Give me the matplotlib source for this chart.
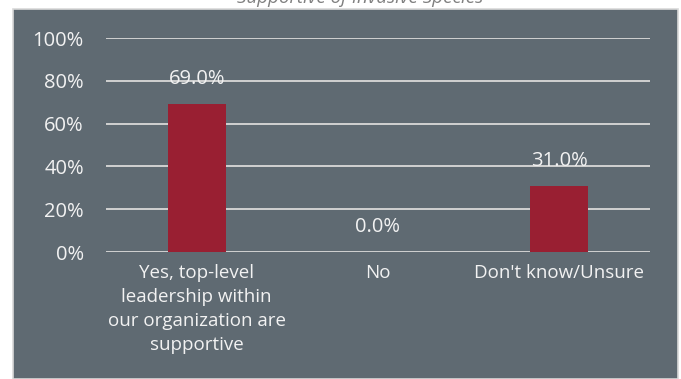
import matplotlib.pyplot as plt
from matplotlib.patches import Rectangle

categories = ['Yes, top-level\nleadership within\nour organization are\nsupportive',
              'No', "Don't know/Unsure"]
values = [69.0, 0.0, 31.0]
yticks = [0, 20, 40, 60, 80, 100]
title = 'Supportive of Invasive Species'

plt.rcParams['font.family'] = ['Open Sans', 'DejaVu Sans']

W, H = 681, 379
fig = plt.figure(figsize=(W / 100, H / 100), dpi=100, facecolor='white')

# slate panel behind the chart
panel = Rectangle((13 / W, 0), 665 / W, 1 - 9 / H, transform=fig.transFigure,
                  facecolor='#5F6A72', edgecolor='#D9D9D9', linewidth=1.2, zorder=-5)
fig.patches.append(panel)

fig.text(360 / W, 1 - 3 / H, title, ha='center', va='baseline',
         fontsize=13.5, style='italic', color='#808080')

ax = fig.add_axes([106 / W, 127 / H, 544 / W, 214 / H])
ax.set_facecolor('none')

x = range(len(categories))
ax.bar(x, values, width=0.32, color='#991F32', zorder=3)

for xi, v in zip(x, values):
    ax.annotate(f'{v:.1f}%', (xi, v), xytext=(0, 18), textcoords='offset points',
                ha='center', va='center', fontsize=14.5, color='#F2F2F2', zorder=4)

ax.set_xlim(-0.5, 2.5)
ax.set_ylim(0, 100)
ax.set_yticks(yticks)
ax.set_yticklabels([f'{t}%' for t in yticks])
ax.yaxis.grid(True, color='#D9D9D9', linewidth=1.3, zorder=1)
ax.set_axisbelow(True)
ax.set_xticks(list(x))
ax.set_xticklabels(categories, linespacing=1.42)
ax.tick_params(axis='y', length=0, pad=16, labelsize=14.5, labelcolor='#F2F2F2')
ax.tick_params(axis='x', length=0, pad=9, labelsize=13.5, labelcolor='#F2F2F2')
for s in ax.spines.values():
    s.set_visible(False)

fig.savefig('out.png', dpi=100, facecolor='white')
